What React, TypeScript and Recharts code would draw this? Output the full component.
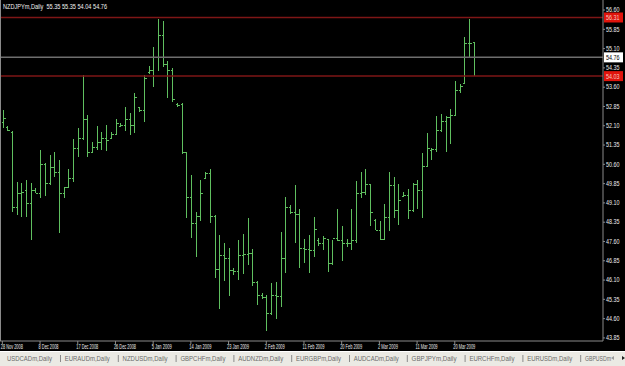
import React from "react"
import {
    ComposedChart, Bar, XAxis, YAxis, ReferenceLine,
} from "recharts"

// NZDJPYm daily bars, 28 Nov 2008 .. 25 Mar 2009 (broker also prints Sunday bars)
const dates = [
    "28 Nov 2008", "30 Nov 2008", "1 Dec 2008", "2 Dec 2008", "3 Dec 2008", "4 Dec 2008", "5 Dec 2008", "7 Dec 2008",
    "8 Dec 2008", "9 Dec 2008", "10 Dec 2008", "11 Dec 2008", "12 Dec 2008", "14 Dec 2008", "15 Dec 2008", "16 Dec 2008",
    "17 Dec 2008", "18 Dec 2008", "19 Dec 2008", "21 Dec 2008", "22 Dec 2008", "23 Dec 2008", "24 Dec 2008", "25 Dec 2008",
    "26 Dec 2008", "28 Dec 2008", "29 Dec 2008", "30 Dec 2008", "31 Dec 2008", "1 Jan 2009", "2 Jan 2009", "4 Jan 2009",
    "5 Jan 2009", "6 Jan 2009", "7 Jan 2009", "8 Jan 2009", "9 Jan 2009", "11 Jan 2009", "12 Jan 2009", "13 Jan 2009",
    "14 Jan 2009", "15 Jan 2009", "16 Jan 2009", "18 Jan 2009", "19 Jan 2009", "20 Jan 2009", "21 Jan 2009", "22 Jan 2009",
    "23 Jan 2009", "25 Jan 2009", "26 Jan 2009", "27 Jan 2009", "28 Jan 2009", "29 Jan 2009", "30 Jan 2009", "1 Feb 2009",
    "2 Feb 2009", "3 Feb 2009", "4 Feb 2009", "5 Feb 2009", "6 Feb 2009", "8 Feb 2009", "9 Feb 2009", "10 Feb 2009",
    "11 Feb 2009", "12 Feb 2009", "13 Feb 2009", "15 Feb 2009", "16 Feb 2009", "17 Feb 2009", "18 Feb 2009", "19 Feb 2009",
    "20 Feb 2009", "22 Feb 2009", "23 Feb 2009", "24 Feb 2009", "25 Feb 2009", "26 Feb 2009", "27 Feb 2009", "1 Mar 2009",
    "2 Mar 2009", "3 Mar 2009", "4 Mar 2009", "5 Mar 2009", "6 Mar 2009", "8 Mar 2009", "9 Mar 2009", "10 Mar 2009",
    "11 Mar 2009", "12 Mar 2009", "13 Mar 2009", "15 Mar 2009", "16 Mar 2009", "17 Mar 2009", "18 Mar 2009", "19 Mar 2009",
    "20 Mar 2009", "22 Mar 2009", "23 Mar 2009", "24 Mar 2009", "25 Mar 2009",
]

const opens = [
    52.26, 52.07, 51.87, 48.96, 49.50, 49.61, 49.11, 49.61, 49.48, 50.62,
    49.86, 50.49, 50.32, 49.48, 49.70, 50.06, 51.22, 51.64, 52.35, 51.09,
    51.29, 51.48, 51.61, 51.61, 51.78, 52.09, 52.13, 52.35, 52.13, 52.82,
    52.71, 54.20, 54.27, 54.76, 55.63, 54.50, 54.27, 52.94, 52.93, 51.06,
    49.32, 48.31, 48.59, 50.06, 50.28, 48.59, 46.52, 47.08, 46.95, 46.50,
    46.47, 47.08, 47.11, 47.17, 46.04, 45.53, 45.46, 44.81, 45.53, 45.49,
    46.95, 48.93, 48.76, 48.67, 47.34, 47.30, 47.27, 47.66, 47.53, 47.69,
    46.76, 47.73, 47.66, 47.53, 47.53, 47.66, 49.50, 49.54, 49.84, 48.44,
    48.05, 47.69, 48.57, 49.80, 48.83, 49.35, 49.41, 48.83, 49.84, 49.61,
    50.54, 51.16, 51.19, 51.94, 52.30, 52.43, 52.52, 53.49, 53.75, 55.33, 55.35,
]

const highs = [
    52.71, 52.09, 51.91, 49.93, 49.86, 49.99, 49.89, 49.67, 51.16, 50.64,
    50.97, 51.09, 50.77, 49.73, 50.41, 51.57, 52.00, 54.07, 52.52, 51.48,
    52.09, 51.87, 52.13, 51.87, 52.35, 52.20, 52.82, 52.61, 53.39, 52.84,
    54.07, 54.42, 55.15, 56.24, 56.19, 54.63, 54.33, 53.00, 53.00, 51.06,
    50.19, 48.76, 49.99, 50.32, 50.41, 48.63, 47.86, 47.53, 47.34, 46.56,
    47.66, 47.90, 48.50, 47.30, 46.08, 45.59, 45.53, 45.98, 46.04, 47.95,
    49.32, 49.02, 49.80, 48.85, 47.69, 47.86, 48.54, 47.73, 47.82, 47.69,
    47.66, 48.85, 48.21, 47.69, 48.85, 49.97, 50.32, 50.41, 49.84, 48.46,
    48.41, 49.06, 50.32, 50.10, 49.84, 49.54, 49.63, 49.89, 49.99, 51.03,
    51.81, 51.22, 52.46, 52.56, 52.48, 52.74, 53.85, 53.72, 55.54, 56.24, 55.35,
]

const lows = [
    52.00, 51.91, 48.76, 48.63, 48.57, 48.57, 47.66, 49.48, 49.28, 49.35,
    49.80, 50.12, 47.92, 49.28, 49.67, 49.93, 50.90, 51.55, 50.90, 51.03,
    51.16, 51.16, 51.13, 51.61, 51.74, 52.04, 51.91, 51.74, 51.81, 52.65,
    52.26, 54.11, 53.59, 54.24, 54.40, 53.17, 53.04, 52.84, 51.00, 48.50,
    47.73, 47.01, 48.41, 50.06, 48.31, 46.17, 44.97, 46.08, 45.49, 46.30,
    46.11, 46.34, 46.69, 45.87, 45.14, 45.36, 44.10, 44.75, 44.58, 45.05,
    46.37, 48.67, 47.56, 46.56, 46.78, 46.37, 47.01, 47.43, 47.25, 46.43,
    46.69, 47.60, 46.86, 47.40, 47.27, 47.53, 49.28, 49.41, 48.21, 48.05,
    47.64, 47.69, 47.99, 48.50, 48.25, 49.32, 48.46, 48.76, 48.85, 48.50,
    50.49, 50.77, 51.09, 51.87, 51.09, 51.39, 52.48, 53.36, 53.72, 54.76, 54.04,
]

const closes = [
    52.39, 51.94, 48.96, 49.50, 49.54, 49.11, 49.61, 49.48, 50.62, 49.86,
    50.49, 50.32, 49.48, 49.70, 50.06, 51.22, 51.64, 52.35, 51.09, 51.29,
    51.48, 51.61, 51.55, 51.78, 52.20, 52.13, 52.35, 52.13, 53.21, 52.71,
    53.94, 54.27, 54.76, 55.63, 54.50, 54.27, 53.13, 52.92, 51.06, 49.32,
    48.31, 48.59, 49.48, 50.28, 48.59, 46.52, 47.08, 46.95, 46.50, 46.47,
    47.08, 47.11, 47.14, 46.04, 45.53, 45.46, 44.81, 45.53, 45.49, 46.95,
    48.93, 48.76, 48.67, 47.34, 47.30, 47.27, 48.08, 47.53, 47.73, 46.76,
    47.73, 47.66, 47.53, 47.56, 47.66, 49.50, 49.54, 49.84, 48.76, 48.05,
    47.69, 48.57, 49.80, 48.83, 49.22, 49.41, 48.83, 49.84, 49.61, 50.54,
    51.22, 51.19, 51.94, 52.30, 52.43, 52.52, 53.49, 53.65, 55.33, 55.30, 54.76,
]

const dateTicks = [
    "28 Nov 2008", "8 Dec 2008", "17 Dec 2008", "26 Dec 2008", "5 Jan 2009", "14 Jan 2009",
    "23 Jan 2009", "2 Feb 2009", "11 Feb 2009", "20 Feb 2009", "2 Mar 2009", "11 Mar 2009", "20 Mar 2009",
]

const priceTicks = [
    43.85, 44.60, 45.35, 46.10, 46.85, 47.60, 48.35, 49.10, 49.85,
    50.60, 51.35, 52.10, 52.85, 53.60, 54.35, 55.10, 55.85, 56.60,
]

const upperLevel = 56.31
const bidLevel = 54.76
const lowerLevel = 54.03

const title = "NZDJPYm,Daily  55.35 55.35 54.04 54.76"

const tabs = [
    "USDCADm,Daily", "EURAUDm,Daily", "NZDUSDm,Daily", "GBPCHFm,Daily", "AUDNZDm,Daily", "EURGBPm,Daily",
    "AUDCADm,Daily", "GBPJPYm,Daily", "EURCHFm,Daily", "EURUSDm,Daily", "GBPUSDm",
]

const data = dates.map((date, i) => ({
    date, open: opens[i], high: highs[i], low: lows[i], close: closes[i],
}))

const FONT = "'Liberation Sans', Arial, sans-serif"
const BAR_COLOR = "#5fbf5f"
const AXIS_COLOR = "#8a8a8a"
const LABEL_COLOR = "#ececec"

function OhlcBar(props: any) {
    const { x, y, width, height, payload } = props
    if (x == null || y == null) return null
    const top = Math.min(y, y + height)
    const h = Math.abs(height)
    const range = payload.high - payload.low
    const at = (v: number) => (range ? top + ((payload.high - v) / range) * h : top)
    const cx = Math.round(x + width / 2) + 0.5
    const oy = Math.round(at(payload.open)) + 0.5
    const cy = Math.round(at(payload.close)) + 0.5
    return (
        <g stroke={BAR_COLOR} strokeWidth={1} shapeRendering="crispEdges">
            <line x1={cx} y1={top} x2={cx} y2={top + Math.max(h, 1)} />
            <line x1={cx - 2} y1={oy} x2={cx} y2={oy} />
            <line x1={cx} y1={cy} x2={cx + 2} y2={cy} />
        </g>
    )
}

// MT4 prints tiny labels; squeeze the glyphs so each one keeps the width seen in the screenshot
function DateTick(props: any) {
    const { x, y, payload } = props
    const s = String(payload.value)
    return (
        <text x={x - 1.5} y={y + 4.5} textAnchor="start" fill={LABEL_COLOR} fontSize={6.5} fontFamily={FONT}
            textLength={s.length * 2.0} lengthAdjust="spacingAndGlyphs">
            {s}
        </text>
    )
}

function PriceTick(props: any) {
    const { x, y, payload } = props
    return (
        <text x={x} y={y + 2.3} textAnchor="start" fill={LABEL_COLOR} fontSize={6.5} fontFamily={FONT}
            textLength={13.5} lengthAdjust="spacingAndGlyphs">
            {Number(payload.value).toFixed(2)}
        </text>
    )
}

function PriceTag({ viewBox, value, fill, color }: any) {
    const { x, y, width } = viewBox
    const left = x + width + 1
    return (
        <g>
            <rect x={left} y={y - 5} width={19} height={10} fill={fill} />
            <text x={left + 2} y={y + 2.5} fill={color} fontSize={6.5} fontFamily={FONT}
                textLength={13.5} lengthAdjust="spacingAndGlyphs">
                {value.toFixed(2)}
            </text>
        </g>
    )
}

export default function App() {
    return (
        <div style={{ position: "absolute", left: 0, top: 0, width: 625, height: 366, background: "#000", overflow: "hidden" }}>
            <ComposedChart
                width={625}
                height={351}
                data={data}
                margin={{ top: 0, right: 0, bottom: 0, left: 0 }}
                barCategoryGap={0}
            >
                <XAxis
                    dataKey="date"
                    ticks={dateTicks}
                    interval={0}
                    padding={{ left: 0, right: 127 }}
                    height={10}
                    tickSize={3}
                    tickMargin={0}
                    axisLine={{ stroke: AXIS_COLOR }}
                    tickLine={{ stroke: AXIS_COLOR }}
                    tick={<DateTick />}
                />
                <YAxis
                    orientation="right"
                    type="number"
                    domain={[43.73, 56.99]}
                    ticks={priceTicks}
                    interval={0}
                    allowDataOverflow
                    width={22}
                    tickSize={2}
                    tickMargin={1}
                    axisLine={{ stroke: AXIS_COLOR }}
                    tickLine={{ stroke: AXIS_COLOR }}
                    tick={<PriceTick />}
                />
                <ReferenceLine y={upperLevel} stroke="#7e1616" strokeWidth={1.5}
                    label={<PriceTag value={upperLevel} fill="#e0140c" color="#f6c8c0" />} />
                <ReferenceLine y={bidLevel} stroke="#6e6e6e" strokeWidth={1.5}
                    label={<PriceTag value={bidLevel} fill="#ffffff" color="#000000" />} />
                <ReferenceLine y={lowerLevel} stroke="#7e1616" strokeWidth={1.5}
                    label={<PriceTag value={lowerLevel} fill="#e0140c" color="#f6c8c0" />} />
                <Bar
                    dataKey={(d: any) => [d.low, d.high]}
                    shape={<OhlcBar />}
                    isAnimationActive={false}
                />
            </ComposedChart>
            <div style={{ position: "absolute", left: 0, top: 0, width: 1, height: 341, background: AXIS_COLOR }} />
            <svg width={625} height={366} style={{ position: "absolute", left: 0, top: 0 }}>
                <text x={3} y={8.5} fill="#f2f2f2" fontSize={6.5} fontFamily={FONT}
                    textLength={104} lengthAdjust="spacingAndGlyphs" xmlSpace="preserve">
                    {title}
                </text>
                <rect x={0} y={351} width={625} height={15} fill="#ebeae4" />
                <line x1={0} y1={351.5} x2={625} y2={351.5} stroke="#ffffff" />
                {tabs.map((t, i) => (
                    <g key={t}>
                        <text x={7 + i * 57.8} y={360.5} fill="#6a6a6a" fontSize={7} fontFamily={FONT}
                            textLength={t.length > 8 ? 45 : 26} lengthAdjust="spacingAndGlyphs">
                            {t}
                        </text>
                        {i < tabs.length - 1 && (
                            <line x1={60.5 + i * 57.8} y1={355} x2={60.5 + i * 57.8} y2={362} stroke="#8a8a8a" />
                        )}
                    </g>
                ))}
                <polygon points="611,358 614,356 614,360" fill="#9a9a9a" />
                <polygon points="622,356 625,358 622,360" fill="#222222" />
            </svg>
        </div>
    )
}
